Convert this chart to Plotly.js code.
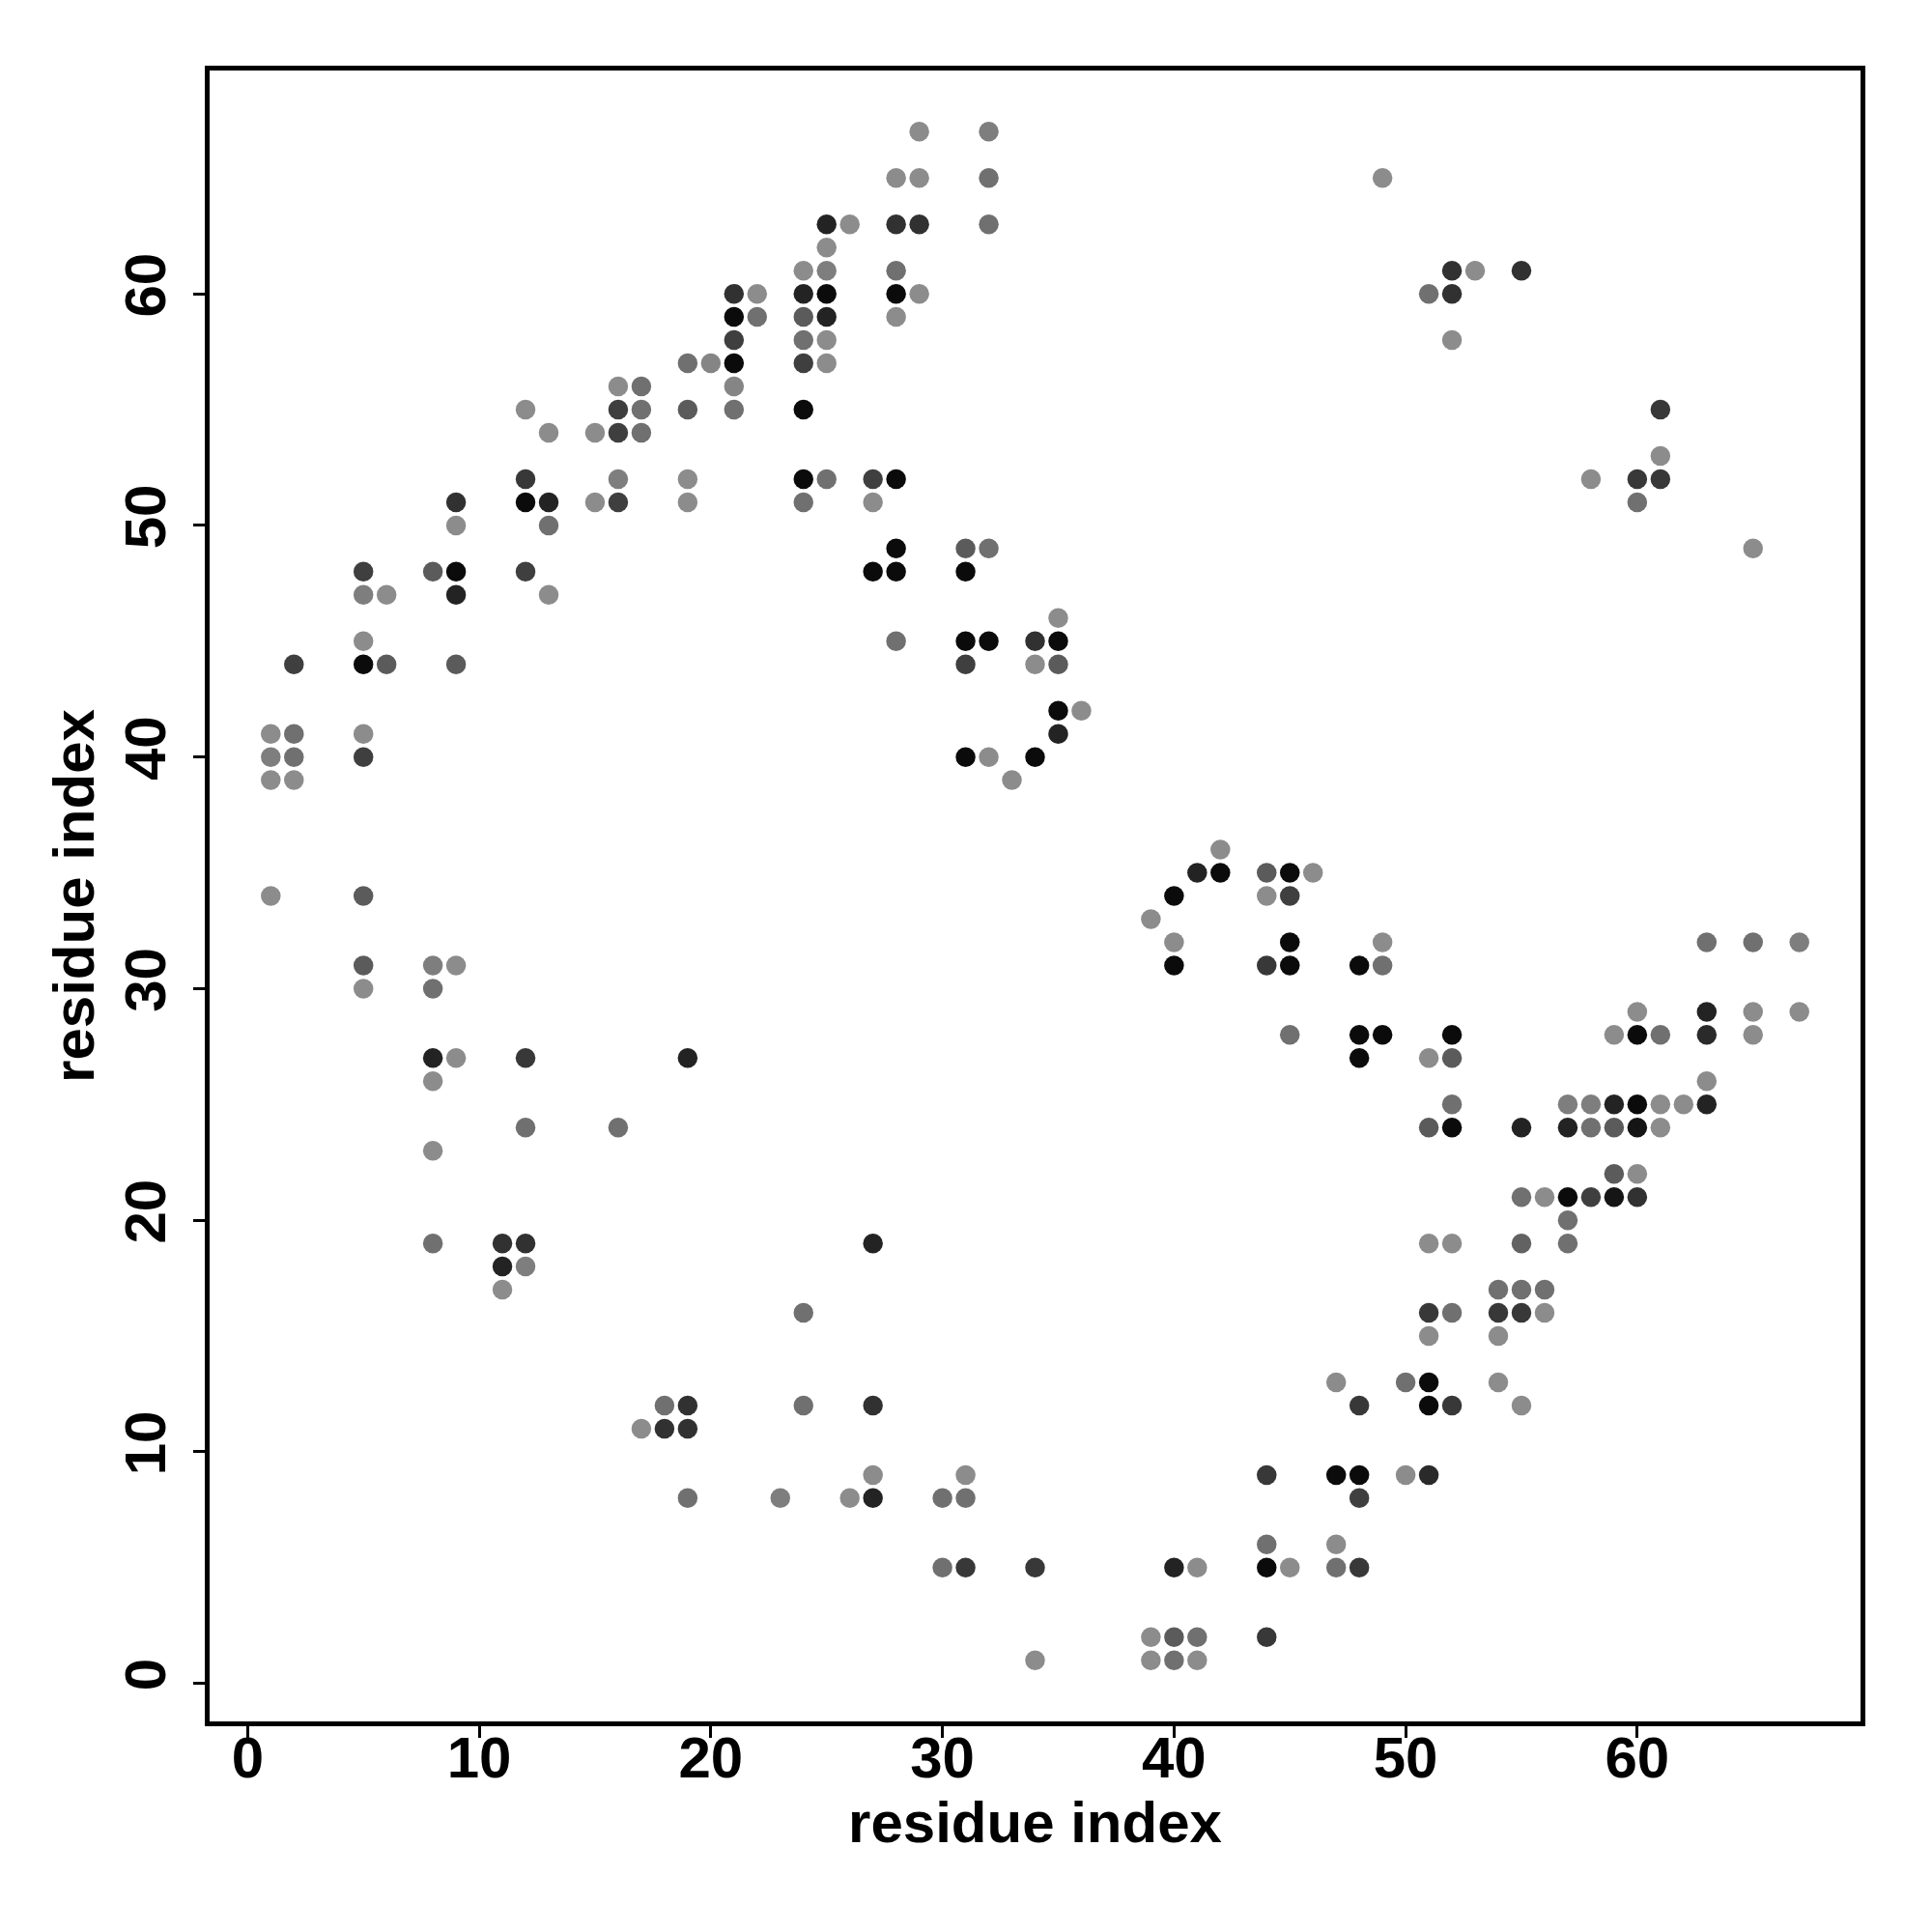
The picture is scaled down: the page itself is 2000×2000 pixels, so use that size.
<!DOCTYPE html>
<html>
<head>
<meta charset="utf-8">
<script src="https://cdn.plot.ly/plotly-3.0.1.min.js"></script>
<style>html,body{margin:0;padding:0;background:#fff;}#chart{width:2000px;height:2000px;}</style>
</head>
<body>
<div id="chart"></div>
<script>
// Contact map: each row is one residue index j (y), with partner residues i (x) and a contact score (0 = weak/light, 1 = strong/black)
const rowY = [67,65,63,62,61,60,59,58,57,56,55,54,53,52,51,50,49,48,47,46,45,44,42,41,40,39,36,35,34,33,32,31,30,29,28,27,26,25,24,23,22,21,20,19,18,17,16,15,13,12,11,9,8,6,5,2,1];
const rowX = [
  [29,32],
  [28,29,32,49],
  [25,26,28,29,32],
  [25],
  [24,25,28,52,53,55],
  [21,22,24,25,28,29,51,52],
  [21,22,24,25,28],
  [21,24,25,52],
  [19,20,21,24,25],
  [16,17,21],
  [12,16,17,19,21,24,61],
  [13,15,16,17],
  [61],
  [12,16,19,24,25,27,28,58,60,61],
  [9,12,13,15,16,19,24,27,60],
  [9,13],
  [28,31,32,65],
  [5,8,9,12,27,28,31],
  [5,6,9,13],
  [35],
  [5,28,31,32,34,35],
  [2,5,6,9,31,34,35],
  [35,36],
  [1,2,5,35],
  [1,2,5,31,32,34],
  [1,2,33],
  [42],
  [41,42,44,45,46],
  [1,5,40,44,45],
  [39],
  [40,45,49,63,65,67],
  [5,8,9,40,44,45,48,49],
  [5,8],
  [60,63,65,67],
  [45,48,49,52,59,60,61,63,65],
  [8,9,12,19,48,51,52],
  [8,63],
  [52,57,58,59,60,61,62,63],
  [12,16,51,52,55,57,58,59,60,61],
  [8],
  [59,60],
  [55,56,57,58,59,60],
  [57],
  [8,11,12,27,51,52,55,57],
  [11,12],
  [11,54,55,56],
  [24,51,52,54,55,56],
  [51,54],
  [47,50,51,54],
  [18,19,24,27,48,51,52,55],
  [17,18,19],
  [27,31,44,47,48,50,51],
  [19,23,26,27,30,31,48],
  [44,47],
  [30,31,34,40,41,44,45,47,48],
  [39,40,41,44],
  [34,39,40,41]
];
const rowScore = [
  [0,0.1],
  [0,0,0.2,0],
  [0.75,0,0.65,0.65,0.2],
  [0],
  [0,0.1,0.2,0.65,0,0.65],
  [0.65,0,0.75,0.92,0.92,0,0.2,0.65],
  [0.92,0.2,0.35,0.75,0],
  [0.55,0.2,0,0],
  [0.2,0.05,0.92,0.55,0],
  [0,0.2,0.05],
  [0,0.55,0.2,0.35,0.2,0.92,0.6],
  [0,0,0.55,0.2],
  [0],
  [0.6,0.1,0,0.92,0.2,0.55,0.92,0,0.6,0.6],
  [0.65,0.92,0.75,0,0.55,0,0.2,0,0.2],
  [0,0.2],
  [0.92,0.35,0.2,0],
  [0.55,0.35,0.92,0.55,0.92,0.92,0.92],
  [0.1,0,0.75,0],
  [0],
  [0,0.2,0.92,0.92,0.65,0.92],
  [0.55,0.92,0.35,0.35,0.55,0,0.35],
  [0.92,0],
  [0,0.2,0,0.75],
  [0.1,0.2,0.55,0.92,0,0.92],
  [0,0,0],
  [0],
  [0.75,0.92,0.35,0.92,0],
  [0,0.35,0.92,0,0.55],
  [0],
  [0,0.92,0,0.2,0.2,0.1],
  [0.35,0.1,0,0.92,0.6,0.92,0.92,0.2],
  [0,0.2],
  [0,0.75,0,0],
  [0.2,0.92,0.92,0.92,0,0.92,0.2,0.7,0],
  [0.75,0,0.6,0.75,0.92,0,0.35],
  [0,0],
  [0.2,0.1,0.1,0.75,0.92,0,0,0.75],
  [0.2,0.2,0.35,0.92,0.75,0.75,0.2,0.35,0.85,0],
  [0],
  [0.35,0],
  [0.2,0,0.92,0.55,0.85,0.65],
  [0.2],
  [0.2,0.65,0.65,0.75,0,0,0.3,0.2],
  [0.75,0.1],
  [0,0.2,0.2,0.2],
  [0.2,0.6,0.2,0.6,0.6,0],
  [0,0],
  [0,0.2,0.92,0],
  [0.2,0.65,0.2,0.65,0.6,0.92,0.6,0],
  [0,0.65,0.65],
  [0,0,0.6,0.92,0.92,0,0.7],
  [0.2,0.1,0,0.75,0.2,0.2,0.55],
  [0.2,0],
  [0.2,0.6,0.6,0.75,0,0.92,0,0.2,0.6],
  [0,0.35,0.2,0.6],
  [0,0,0.2,0]
];
const tickValues = [0,10,20,30,40,50,60];
const axisLabel = "residue index";

// Build flat arrays for the scatter trace
const xs = [], ys = [], cs = [];
rowY.forEach((yv, k) => {
  rowX[k].forEach((xv, m) => { xs.push(xv); ys.push(yv); cs.push(rowScore[k][m]); });
});

const fontFamily = "Liberation Sans, Arial, Helvetica, sans-serif";
const trace = {
  type: "scatter", mode: "markers", x: xs, y: ys,
  marker: {
    size: 20.5, color: cs, cmin: 0, cmax: 1,
    colorscale: [[0, "rgb(140,140,140)"], [1, "rgb(0,0,0)"]],
    showscale: false, line: {width: 0}
  },
  hoverinfo: "x+y"
};

const axisCommon = {
  showgrid: false, zeroline: false, showline: true, mirror: true,
  linecolor: "#000", linewidth: 5,
  ticks: "outside", ticklen: 12, tickwidth: 3, tickcolor: "#000",
  tickvals: tickValues, ticktext: tickValues.map(String),
  tickfont: {family: fontFamily, size: 60, color: "#000", weight: 700},
  range: [-1.64, 69.64], autorange: false
};

const layout = {
  width: 2000, height: 2000,
  margin: {l: 217, r: 74, t: 73, b: 218},
  paper_bgcolor: "#fff", plot_bgcolor: "#fff",
  showlegend: false,
  xaxis: Object.assign({}, axisCommon, {
    ticklabelstandoff: -31,
    title: {text: axisLabel, font: {family: fontFamily, size: 60, color: "#000", weight: 700}, standoff: 9}
  }),
  yaxis: Object.assign({}, axisCommon, {
    tickangle: -90,
    ticklabelstandoff: 5,
    title: {text: axisLabel, font: {family: fontFamily, size: 60, color: "#000", weight: 700}, standoff: 2}
  })
};

Plotly.newPlot("chart", [trace], layout, {displayModeBar: false, staticPlot: true});
</script>
</body>
</html>
